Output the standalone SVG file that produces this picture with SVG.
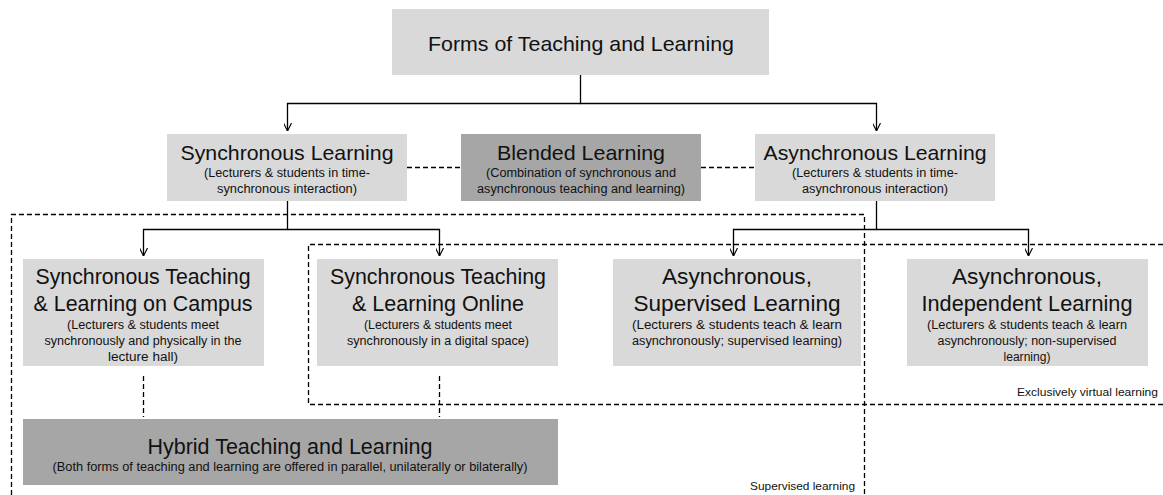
<svg xmlns="http://www.w3.org/2000/svg" width="1163" height="495" viewBox="0 0 1163 495">
<style>
.lt{fill:#d9d9d9}
.dk{fill:#a6a6a6}
.t{font-family:"Liberation Sans",Arial,sans-serif;fill:#111;text-anchor:middle}
.h{font-size:21px}
.h2{font-size:22px}
.s{font-size:12.5px}
.lab{font-family:"Liberation Sans",Arial,sans-serif;font-size:11.5px;fill:#111;text-anchor:end}
.ln{fill:none;stroke:#000;stroke-width:1.3}
.ds{fill:none;stroke:#000;stroke-width:1.3;stroke-dasharray:5,3}
</style>
<defs>
<marker id="ar" viewBox="0 0 10 10" refX="10" refY="5" markerWidth="8" markerHeight="8" markerUnits="userSpaceOnUse" orient="auto">
<path d="M0,0 L10,5 L0,10" fill="none" stroke="#000" stroke-width="1.4"/>
</marker>
</defs>
<rect width="1163" height="495" fill="#fff"/>

<g id="regions">
<path class="ds" d="M11.5,495 V214.5 H864.5 V495"/>
<path class="ds" d="M1163,244.5 H308.5 V404.5 H1163"/>
<text class="lab" x="855" y="490" textLength="105" lengthAdjust="spacingAndGlyphs">Supervised learning</text>
<text class="lab" x="1158" y="396" textLength="141" lengthAdjust="spacingAndGlyphs">Exclusively virtual learning</text>
</g>

<g id="connectors">
<path class="ln" d="M580.5,75 V103.5 H287.5 V131" marker-end="url(#ar)"/>
<path class="ln" d="M580.5,103.5 H876.5 V131" marker-end="url(#ar)"/>
<path class="ln" d="M287.5,201 V229.5 H143.5 V256" marker-end="url(#ar)"/>
<path class="ln" d="M287.5,229.5 H439.5 V256" marker-end="url(#ar)"/>
<path class="ln" d="M876.5,201 V229.5 H733.5 V256" marker-end="url(#ar)"/>
<path class="ln" d="M876.5,229.5 H1028.5 V256" marker-end="url(#ar)"/>
<path class="ds" d="M407,167.5 H461"/>
<path class="ds" d="M701,167.5 H755"/>
<path class="ds" d="M143.5,376 V417"/>
<path class="ds" d="M439.5,376 V417"/>
</g>

<g id="n-forms">
<rect class="lt" x="392" y="9" width="377" height="66"/>
<text class="t h" x="581" y="51" textLength="306" lengthAdjust="spacingAndGlyphs">Forms of Teaching and Learning</text>
</g>

<g id="n-sync">
<rect class="lt" x="167" y="134" width="240" height="67"/>
<text class="t h" x="287" y="160" textLength="213" lengthAdjust="spacingAndGlyphs">Synchronous Learning</text>
<text class="t s" x="287" y="177" textLength="166" lengthAdjust="spacingAndGlyphs">(Lecturers &amp; students in time-</text>
<text class="t s" x="287" y="193" textLength="140" lengthAdjust="spacingAndGlyphs">synchronous interaction)</text>
</g>

<g id="n-blended">
<rect class="dk" x="461" y="134" width="240" height="67"/>
<text class="t h" x="581" y="160" textLength="168" lengthAdjust="spacingAndGlyphs">Blended Learning</text>
<text class="t s" x="581" y="177" textLength="190" lengthAdjust="spacingAndGlyphs">(Combination of synchronous and</text>
<text class="t s" x="581" y="193" textLength="208" lengthAdjust="spacingAndGlyphs">asynchronous teaching and learning)</text>
</g>

<g id="n-async">
<rect class="lt" x="755" y="134" width="240" height="67"/>
<text class="t h" x="875" y="160" textLength="223" lengthAdjust="spacingAndGlyphs">Asynchronous Learning</text>
<text class="t s" x="875" y="177" textLength="166" lengthAdjust="spacingAndGlyphs">(Lecturers &amp; students in time-</text>
<text class="t s" x="875" y="193" textLength="146" lengthAdjust="spacingAndGlyphs">asynchronous interaction)</text>
</g>

<g id="n-campus">
<rect class="lt" x="23" y="259" width="241" height="107"/>
<text class="t h2" x="143" y="284" textLength="215" lengthAdjust="spacingAndGlyphs">Synchronous Teaching</text>
<text class="t h2" x="143" y="311" textLength="219" lengthAdjust="spacingAndGlyphs">&amp; Learning on Campus</text>
<text class="t s" x="143" y="329" textLength="152" lengthAdjust="spacingAndGlyphs">(Lecturers &amp; students meet</text>
<text class="t s" x="143" y="345" textLength="197" lengthAdjust="spacingAndGlyphs">synchronously and physically in the</text>
<text class="t s" x="143" y="361" textLength="70" lengthAdjust="spacingAndGlyphs">lecture hall)</text>
</g>

<g id="n-online">
<rect class="lt" x="317" y="259" width="241" height="107"/>
<text class="t h2" x="438" y="284" textLength="216" lengthAdjust="spacingAndGlyphs">Synchronous Teaching</text>
<text class="t h2" x="438" y="311" textLength="172" lengthAdjust="spacingAndGlyphs">&amp; Learning Online</text>
<text class="t s" x="438" y="329" textLength="148" lengthAdjust="spacingAndGlyphs">(Lecturers &amp; students meet</text>
<text class="t s" x="438" y="345" textLength="182" lengthAdjust="spacingAndGlyphs">synchronously in a digital space)</text>
</g>

<g id="n-supervised">
<rect class="lt" x="613" y="259" width="248" height="107"/>
<text class="t h2" x="737" y="284" textLength="150" lengthAdjust="spacingAndGlyphs">Asynchronous,</text>
<text class="t h2" x="737" y="311" textLength="207" lengthAdjust="spacingAndGlyphs">Supervised Learning</text>
<text class="t s" x="737" y="329" textLength="210" lengthAdjust="spacingAndGlyphs">(Lecturers &amp; students teach &amp; learn</text>
<text class="t s" x="737" y="345" textLength="210" lengthAdjust="spacingAndGlyphs">asynchronously; supervised learning)</text>
</g>

<g id="n-independent">
<rect class="lt" x="907" y="259" width="241" height="107"/>
<text class="t h2" x="1027" y="284" textLength="150" lengthAdjust="spacingAndGlyphs">Asynchronous,</text>
<text class="t h2" x="1027" y="311" textLength="211" lengthAdjust="spacingAndGlyphs">Independent Learning</text>
<text class="t s" x="1027" y="329" textLength="200" lengthAdjust="spacingAndGlyphs">(Lecturers &amp; students teach &amp; learn</text>
<text class="t s" x="1027" y="345" textLength="179" lengthAdjust="spacingAndGlyphs">asynchronously; non-supervised</text>
<text class="t s" x="1027" y="361" textLength="47" lengthAdjust="spacingAndGlyphs">learning)</text>
</g>

<g id="n-hybrid">
<rect class="dk" x="23" y="419" width="535" height="66"/>
<text class="t h2" x="290" y="454" textLength="285" lengthAdjust="spacingAndGlyphs">Hybrid Teaching and Learning</text>
<text class="t s" x="290" y="471" textLength="475" lengthAdjust="spacingAndGlyphs">(Both forms of teaching and learning are offered in parallel, unilaterally or bilaterally)</text>
</g>
</svg>
